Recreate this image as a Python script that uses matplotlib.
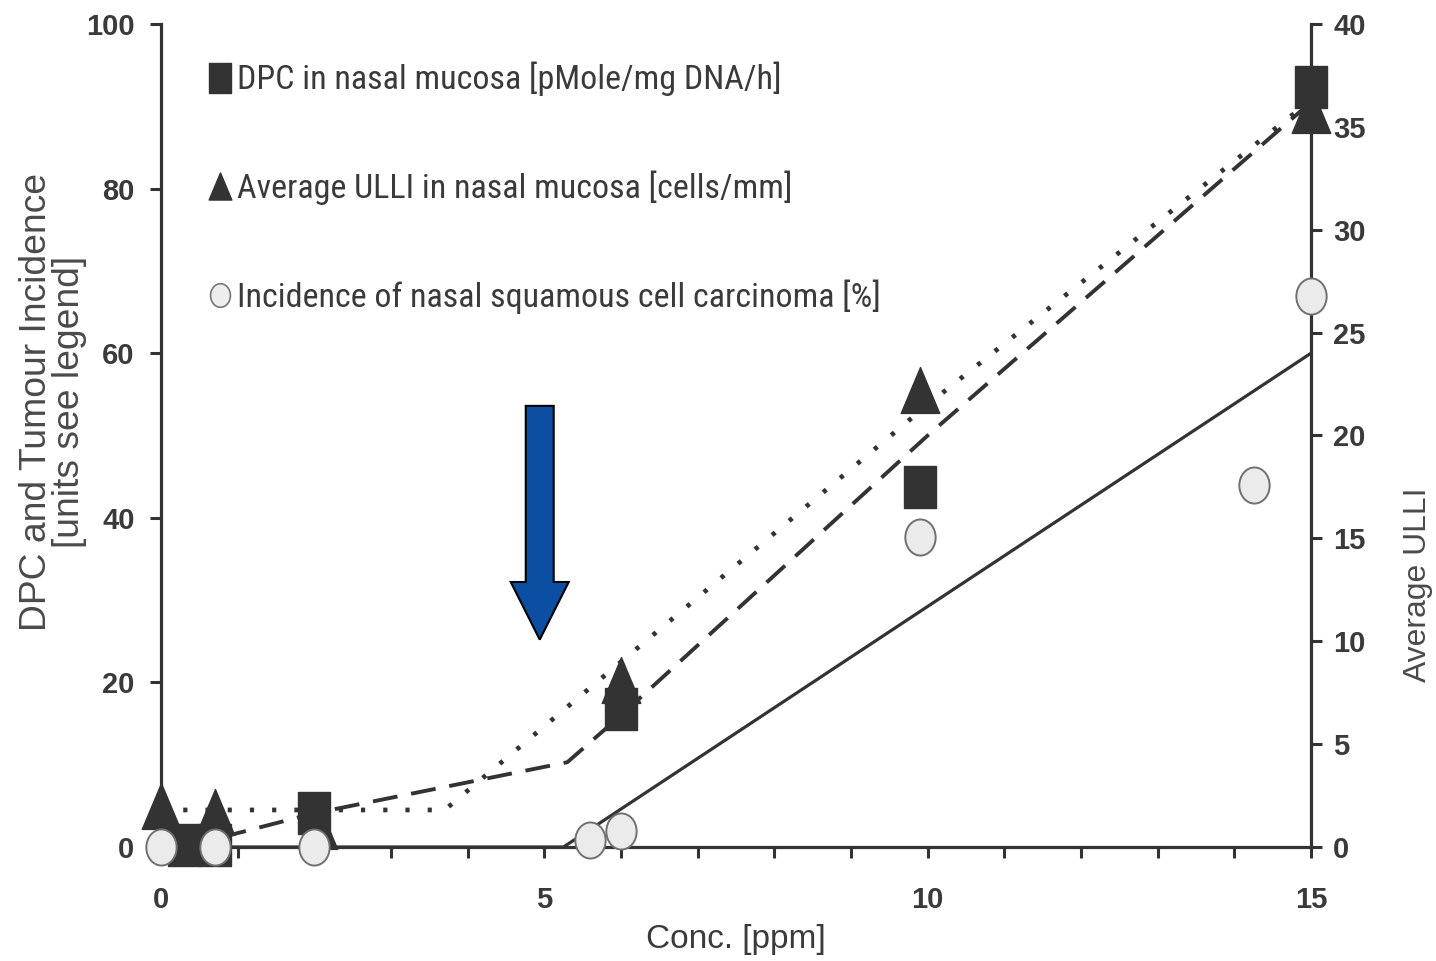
import matplotlib
matplotlib.use("Agg")
import matplotlib.pyplot as plt
from matplotlib.path import Path
from matplotlib.lines import Line2D
from matplotlib.patches import FancyArrow
from matplotlib import font_manager
from matplotlib.font_manager import FontProperties
import numpy as np

# ---------------- data ----------------
# DPC in nasal mucosa (left axis)
dpc_x = [0.3, 0.7, 2.0, 6.0, 9.9, 15.0]
dpc_y = [0.3, 0.3, 4.1, 16.8, 43.7, 92.4]
# DPC fitted curve (dashed, left axis)
dpc_fit_x = [0.3, 2.0, 5.3, 6.0, 10.0, 15.0]
dpc_fit_y = [0.0, 4.1, 10.3, 16.0, 50.0, 90.5]

# Average ULLI (right axis)
ulli_x = [0.0, 0.7, 2.05, 6.0, 9.9, 15.0]
ulli_y = [2.0, 1.7, 1.0, 8.1, 22.2, 35.8]
# ULLI fitted curve (dotted, right axis)
ulli_fit_x = [0.0, 3.7, 6.0, 10.0, 15.0]
ulli_fit_y = [1.8, 1.8, 9.0, 21.5, 36.3]

# Tumour incidence (left axis)
tum_x = [0.0, 0.7, 2.0, 5.6, 6.0, 9.9, 14.25, 15.0]
tum_y = [0.0, 0.0, 0.0, 0.8, 2.0, 37.7, 44.0, 67.0]
# Tumour fitted line (solid, left axis)
tum_fit_x = [0.0, 5.25, 15.0]
tum_fit_y = [0.0, 0.0, 60.0]

left_ticks = [0, 20, 40, 60, 80, 100]
right_ticks = [0, 5, 10, 15, 20, 25, 30, 35, 40]
x_major = [0, 5, 10, 15]
x_minor = list(range(16))

legend_labels = [
    "DPC in nasal mucosa [pMole/mg DNA/h]",
    "Average ULLI in nasal mucosa [cells/mm]",
    "Incidence of nasal squamous cell carcinoma [%]",
]

# ---------------- fonts ----------------
plt.rcParams["lines.scale_dashes"] = False
flist = font_manager.fontManager.ttflist
names = {f.name for f in flist}
base_font = "Liberation Sans" if "Liberation Sans" in names else "DejaVu Sans"
plt.rcParams["font.family"] = base_font


def _is_regular(f):
    w = f.weight
    try:
        w = int(w)
    except (TypeError, ValueError):
        w = 400 if w in ("normal", "regular", "book") else 700
    return f.style == "normal" and w <= 500


narrow_path = None
for f in flist:
    if f.name == "Liberation Sans Narrow" and _is_regular(f):
        narrow_path = f.fname
        break
if narrow_path is None:
    prefs = ["Liberation", "Arimo", "Roboto", "Open Sans", "Noto Sans", "DejaVu Sans", "Lato"]
    cands = []
    for f in flist:
        low = (f.name + " " + f.fname).lower()
        if (("narrow" in low or "condensed" in low or str(f.stretch) in ("condensed", "semi-condensed"))
                and _is_regular(f) and "mono" not in low and "serif" not in low
                and "cjk" not in low):
            rank = next((i for i, p in enumerate(prefs) if f.name.startswith(p)), 99)
            cands.append((rank, f.fname))
    if cands:
        cands.sort()
        narrow_path = cands[0][1]


def narrow_fp(size):
    if narrow_path:
        return FontProperties(fname=narrow_path, size=size)
    return FontProperties(family=base_font, size=size)


def base_fp(size):
    return FontProperties(family=base_font, size=size)


DARK = "#333333"
TXT = "#3a3a3a"

fig = plt.figure(figsize=(14.36, 9.61), dpi=100)
fig.patch.set_facecolor("white")
renderer = fig.canvas.get_renderer()


def fit_size(text, target_px, factory, ref=30.0):
    t = fig.text(0, 0, text, fontproperties=factory(ref))
    w = t.get_window_extent(renderer).width
    t.remove()
    return ref * target_px / w


# markers slightly taller than wide (as in the reference)
sq_path = Path([(-0.38, -0.5), (0.38, -0.5), (0.38, 0.5), (-0.38, 0.5), (-0.38, -0.5)],
               [Path.MOVETO, Path.LINETO, Path.LINETO, Path.LINETO, Path.CLOSEPOLY])
tri_path = Path([(-0.42, -0.5), (0.42, -0.5), (0.0, 0.5), (-0.42, -0.5)],
                [Path.MOVETO, Path.LINETO, Path.LINETO, Path.CLOSEPOLY])
uc = Path.unit_circle()
ell_path = Path(uc.vertices * np.array([0.42, 0.5]), uc.codes)

ax = fig.add_axes([161 / 1436, 1 - 847 / 961, 1150 / 1436, 823 / 961])
ax2 = ax.twinx()
ax.set_zorder(ax2.get_zorder() + 1)
ax.patch.set_visible(False)

# fitted lines
ax.plot(tum_fit_x, tum_fit_y, color=DARK, lw=2.3, solid_capstyle="butt", zorder=2)
ax.plot(dpc_fit_x, dpc_fit_y, color=DARK, lw=2.8, dashes=(18, 10), zorder=2)
ax2.plot(ulli_fit_x, ulli_fit_y, color=DARK, lw=3.4, dashes=(3, 13), zorder=2)

# markers
ax2.plot(ulli_x, ulli_y, ls="none", marker=tri_path, ms=33, mfc=DARK, mec=DARK,
         clip_on=False, zorder=3)
ax.plot(dpc_x, dpc_y, ls="none", marker=sq_path, ms=30, mfc=DARK, mec=DARK,
        clip_on=False, zorder=4)
ax.plot(tum_x, tum_y, ls="none", marker=ell_path, ms=26, mfc="#ebebeb", mec="#707070",
        mew=1.4, clip_on=False, zorder=5)

# blue arrow annotation at ~5 ppm
ax.add_patch(FancyArrow(4.94, 53.6, 0, -28.4, width=0.365, head_width=0.757,
                        head_length=7.0, length_includes_head=True,
                        facecolor="#0b4ea2", edgecolor="black", linewidth=1.5,
                        zorder=10, clip_on=False))

# axes
ax.set_xlim(0, 15)
ax.set_ylim(0, 100)
ax2.set_ylim(0, 40)
ax.set_xticks(x_major)
ax.set_xticks(x_minor, minor=True)
ax.set_yticks(left_ticks)
ax2.set_yticks(right_ticks)

for a in (ax, ax2):
    for s in a.spines.values():
        s.set_linewidth(2.3)
        s.set_color(DARK)
    a.spines["top"].set_visible(False)
ax.spines["right"].set_visible(False)
ax2.spines["left"].set_visible(False)
ax2.spines["bottom"].set_visible(False)

ax.tick_params(axis="both", which="both", direction="out", length=8, width=2.2, color=DARK,
               labelcolor=TXT, labelsize=21)
ax.tick_params(axis="y", pad=11)
ax.tick_params(axis="x", pad=20)
ax2.tick_params(axis="y", direction="out", length=8, width=2.2, color=DARK,
                labelcolor=TXT, labelsize=21, pad=8)
for lab in ax.get_xticklabels() + ax.get_yticklabels() + ax2.get_yticklabels():
    lab.set_fontweight("bold")

# axis titles (sizes chosen so their lengths match the reference)
ylab_fp = base_fp(fit_size("DPC and Tumour Incidence", 457, base_fp))
ax.set_ylabel("DPC and Tumour Incidence\n[units see legend]", fontproperties=ylab_fp,
              linespacing=0.95, color="#4a4a4a")
ax.yaxis.label.set_verticalalignment("center")
ax.yaxis.set_label_coords(-0.094, 0.541)

xlab_fp = base_fp(fit_size("Conc. [ppm]", 180, base_fp))
ax.set_xlabel("Conc. [ppm]", fontproperties=xlab_fp, color=TXT)
ax.xaxis.label.set_verticalalignment("center")
ax.xaxis.set_label_coords(0.5, -0.113)

rlab_fp = base_fp(fit_size("Average ULLI", 194, base_fp))
fig.text(1418 / 1436, 1 - 585 / 961, "Average ULLI", rotation=90, ha="center",
         va="center", fontproperties=rlab_fp, color="#4a4a4a")

# legend
handles = [
    Line2D([], [], ls="none", marker=sq_path, ms=21.5, mfc=DARK, mec=DARK),
    Line2D([], [], ls="none", marker=tri_path, ms=19.5, mfc=DARK, mec=DARK),
    Line2D([], [], ls="none", marker=ell_path, ms=17, mfc="#eeeeee", mec="#777777", mew=1.2),
]
leg_size = fit_size(legend_labels[0], 545, narrow_fp)
leg_px = leg_size * 100 / 72
lab_sp = (106 - 0.93 * leg_px) / leg_px
leg = ax.legend(handles, legend_labels, loc="upper left",
                bbox_to_anchor=((210 - 161) / 1150, (847 - 78 + 0.47 * leg_px) / 823),
                frameon=False, borderpad=0, borderaxespad=0, handlelength=0.6,
                handletextpad=0.2, labelspacing=lab_sp, prop=narrow_fp(leg_size))
for t in leg.get_texts():
    t.set_color(TXT)

fig.savefig("out.png", dpi=100, facecolor="white")
